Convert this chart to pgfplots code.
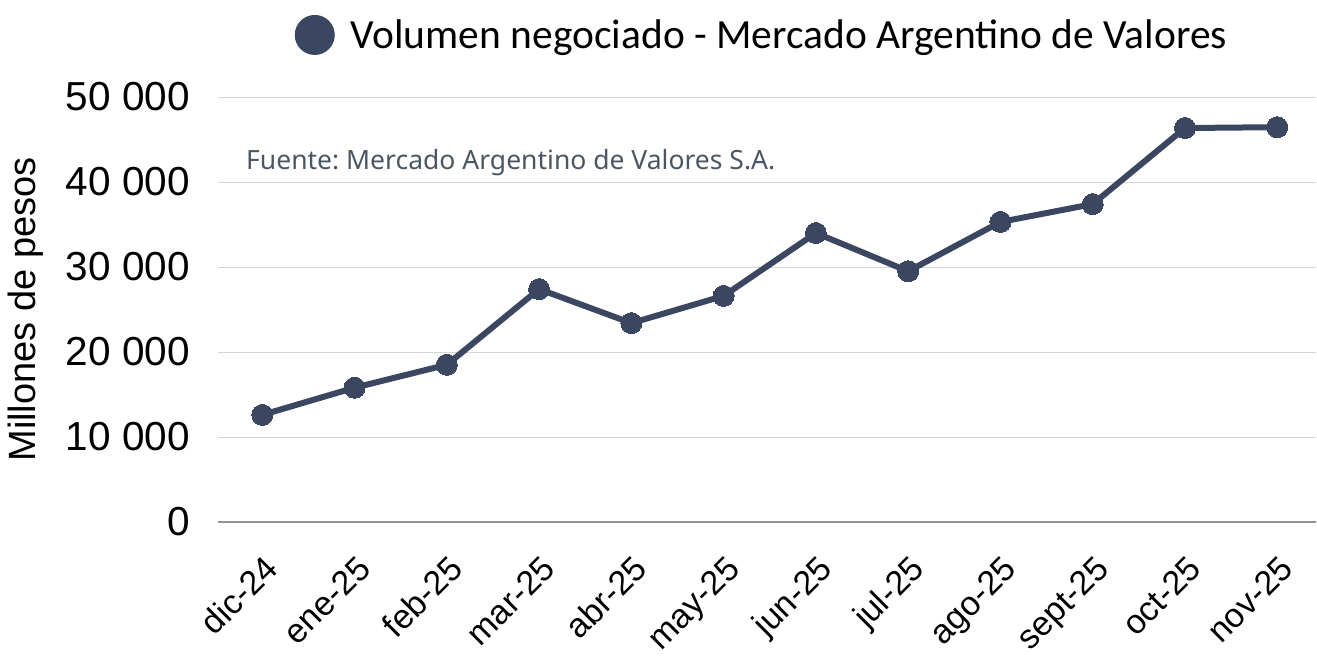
\documentclass[border=0pt]{standalone}
\usepackage{pgfplots}
\pgfplotsset{compat=1.18}
\usepackage{fontspec}
\setmainfont{Liberation Sans}
\newfontfamily\titlefont{Carlito}
\newfontfamily\notefont{Noto Sans}
\definecolor{ln}{HTML}{3B4660}
\definecolor{grd}{HTML}{D4D4D4}
\definecolor{note}{HTML}{4A5763}
\frenchspacing
\begin{document}
\begin{tikzpicture}
\begin{axis}[
  at={(0,0)}, anchor=south west,
  scale only axis,
  width=1098pt, height=425pt,
  xmin=-0.48, xmax=11.42,
  ymin=0, ymax=50000,
  scaled y ticks=false,
  axis x line*=bottom, axis y line*=left,
  x axis line style={draw=gray!85, line width=1.2pt, -},
  y axis line style={draw=none},
  ytick={0,10000,20000,30000,40000,50000},
  yticklabels={0,10 000,20 000,30 000,40 000,50 000},
  ymajorgrids, grid style={grd, line width=1pt},
  major tick length=0pt,
  xtick={0,...,11},
  xticklabels={dic-24,ene-25,feb-25,mar-25,abr-25,may-25,jun-25,jul-25,ago-25,sept-25,oct-25,nov-25},
  xticklabel style={font=\fontsize{34}{35}\selectfont, inner sep=0pt, anchor=base east, xshift=18pt, yshift=-49pt, rotate=45},
  yticklabel style={font=\fontsize{40.5}{42}\selectfont, anchor=east, inner sep=0pt, xshift=-28pt},
  ylabel={Millones de pesos},
  ylabel style={font=\fontsize{38}{40}\selectfont, at={(axis description cs:-0.1658,0.5)}, anchor=base, inner sep=0pt},
  clip=false,
  legend style={at={(axis description cs:0.4954,1.146)}, anchor=center, draw=none, fill=none, font=\titlefont\fontsize{41.5}{43}\selectfont, legend cell align=left, inner sep=0pt},
  legend image code/.code={\fill[ln] (0.3cm,0cm) circle (17pt);},
]
\addplot[ln, line width=6pt, mark=*, mark size=10.5pt, mark options={fill=ln, draw=ln, line width=0pt}] coordinates {
(0,12600) (1,15800) (2,18500) (3,27400) (4,23400) (5,26600) (6,34000) (7,29500) (8,35300) (9,37400) (10,46350) (11,46450)
};
\addlegendentry{\hspace{14pt}Volumen negociado - Mercado Argentino de Valores}
\node[anchor=west, text=note, font=\notefont\fontsize{26.5}{28}\selectfont, inner sep=0pt] at (rel axis cs:0.0255,0.845) {Fuente: Mercado Argentino de Valores S.A.};
\end{axis}
\useasboundingbox (-218pt,-125pt) rectangle (1099pt,522pt);
\end{tikzpicture}
\end{document}
